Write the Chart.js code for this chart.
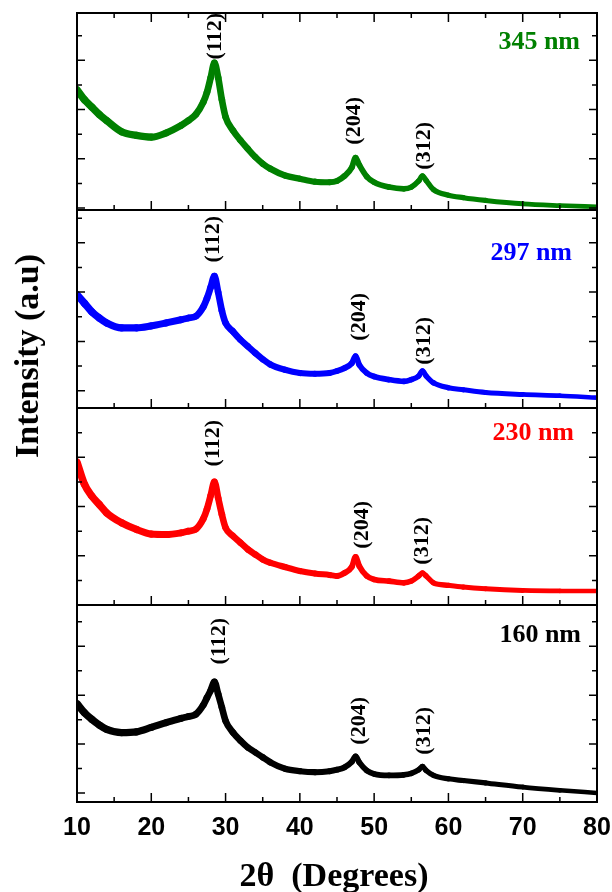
<!DOCTYPE html>
<html>
<head>
<meta charset="utf-8">
<script src="https://cdn.jsdelivr.net/npm/chart.js@4.4.0/dist/chart.umd.min.js"></script>
<style>
  body { margin: 0; background: #fff; }
  #wrap { position: relative; width: 612px; height: 892px; overflow: hidden; }
  #wrap canvas { position: absolute; left: 0; }
  #ytitle {
    position: absolute; left: 27px; top: 356px;
    transform: translate(-50%, -50%) rotate(-90deg);
    font: bold 34px "Liberation Serif", "Times New Roman", serif;
    white-space: nowrap;
  }
</style>
</head>
<body>
<div id="wrap">
  <canvas id="c1"></canvas>
  <canvas id="c2"></canvas>
  <canvas id="c3"></canvas>
  <canvas id="c4"></canvas>
  <div id="ytitle">Intensity (a.u)</div>
</div>
<script>
// 2-theta sampling points (degrees)
const twoTheta = [10, 11, 12, 13, 14, 16, 18, 20, 22, 24, 25, 26, 27, 27.5, 28, 28.5, 29, 29.5, 30, 31, 32, 33, 34, 35, 36, 38, 40, 42, 44, 45, 46, 47, 47.5, 48, 49, 50, 52, 54, 55, 56, 56.5, 57, 58, 60, 62, 65, 70, 75, 80];

// intensities, arbitrary units (one y tick = 1)
const int345 = [4.8, 4.4, 4.1, 3.8, 3.55, 3.1, 2.95, 2.88, 3.05, 3.35, 3.55, 3.8, 4.3, 4.7, 5.3, 5.9, 5.3, 4.4, 3.7, 3.15, 2.75, 2.4, 2.07, 1.8, 1.6, 1.32, 1.19, 1.07, 1.05, 1.1, 1.3, 1.65, 2.05, 1.75, 1.28, 1.05, 0.85, 0.78, 0.85, 1.1, 1.3, 1.12, 0.75, 0.52, 0.42, 0.31, 0.17, 0.1, 0.05];
const int297 = [3.9, 3.55, 3.2, 2.95, 2.75, 2.55, 2.55, 2.63, 2.75, 2.88, 2.95, 3.02, 3.4, 3.75, 4.2, 4.65, 4.0, 3.25, 2.75, 2.4, 2.07, 1.8, 1.53, 1.28, 1.07, 0.85, 0.72, 0.69, 0.72, 0.8, 0.92, 1.12, 1.4, 1.05, 0.72, 0.58, 0.45, 0.38, 0.45, 0.6, 0.8, 0.6, 0.32, 0.12, 0.04, -0.07, -0.15, -0.2, -0.28];
const int230 = [5.8, 4.9, 4.42, 4.08, 3.74, 3.34, 3.07, 2.88, 2.86, 2.93, 3.0, 3.08, 3.5, 3.9, 4.45, 5.0, 4.35, 3.68, 3.14, 2.8, 2.53, 2.26, 2.05, 1.85, 1.72, 1.54, 1.38, 1.28, 1.22, 1.18, 1.3, 1.55, 1.95, 1.58, 1.18, 1.04, 0.97, 0.9, 0.97, 1.18, 1.3, 1.18, 0.9, 0.8, 0.73, 0.66, 0.59, 0.57, 0.57];
const int160 = [3.65, 3.28, 3.01, 2.78, 2.6, 2.47, 2.5, 2.68, 2.88, 3.05, 3.13, 3.22, 3.6, 3.9, 4.2, 4.55, 4.05, 3.5, 2.95, 2.47, 2.14, 1.86, 1.66, 1.46, 1.26, 0.99, 0.89, 0.85, 0.89, 0.95, 1.05, 1.28, 1.5, 1.25, 0.92, 0.78, 0.72, 0.74, 0.8, 0.95, 1.08, 0.92, 0.72, 0.58, 0.51, 0.41, 0.24, 0.11, 0.0];

const sampleNames = ['345 nm', '297 nm', '230 nm', '160 nm'];
const hklLabels = ['(112)', '(204)', '(312)'];
const xTickLabels = [10, 20, 30, 40, 50, 60, 70, 80];

// panel layout: pixel box of each plot area, y range, label placement
const panels = [
  { id: 'c1', data: int345, color: '#008000', top: 13, bottom: 210, ymin: -0.08, ymax: 7.92,
    nameRight: 580, nameY: 29, hklX: [28.57, 47.3, 56.77], hklTop: [0, 84, 109] },
  { id: 'c2', data: int297, color: '#0000ff', top: 210, bottom: 408, ymin: -0.7, ymax: 7.33,
    nameRight: 572, nameY: 43, hklX: [28.3, 47.96, 56.77], hklTop: [6, 83, 107] },
  { id: 'c3', data: int230, color: '#ff0000', top: 408, bottom: 605, ymin: 0, ymax: 8.0,
    nameRight: 574, nameY: 25, hklX: [28.3, 48.36, 56.5], hklTop: [12, 93, 109] },
  { id: 'c4', data: int160, color: '#000000', top: 605, bottom: 802, ymin: -0.37, ymax: 7.69,
    nameRight: 581, nameY: 30, hklX: [29.1, 47.96, 56.7], hklTop: [13, 92, 102] }
];

const serif = '"Liberation Serif", "Times New Roman", serif';
const sans = '"Liberation Sans", Arial, sans-serif';

const framePlugin = {
  id: 'frame',
  afterDraw(chart, args, opts) {
    const ctx = chart.ctx;
    const a = chart.chartArea;
    const xs = chart.scales.x;
    const ys = chart.scales.y;
    const p = opts.panel;
    const idx = opts.index;
    ctx.save();
    ctx.strokeStyle = '#000';

    // x ticks, pointing inward
    ctx.lineWidth = 1.5;
    for (let v = 10; v <= 80; v += 5) {
      const px = xs.getPixelForValue(v);
      const len = v % 10 === 0 ? 9 : 5;
      ctx.beginPath();
      ctx.moveTo(px, a.bottom);
      ctx.lineTo(px, a.bottom - len);
      if (idx === 0) {
        ctx.moveTo(px, a.top);
        ctx.lineTo(px, a.top + len);
      }
      ctx.stroke();
    }
    // y ticks, both sides
    for (let v = Math.ceil(p.ymin); v <= p.ymax; v++) {
      const py = ys.getPixelForValue(v);
      const len = v % 2 === 0 ? 8 : 5;
      ctx.beginPath();
      ctx.moveTo(a.left, py);
      ctx.lineTo(a.left + len, py);
      ctx.moveTo(a.right, py);
      ctx.lineTo(a.right - len, py);
      ctx.stroke();
    }

    ctx.lineWidth = 2;
    ctx.strokeRect(a.left, a.top, a.right - a.left, a.bottom - a.top);

    // hkl labels, rotated
    ctx.fillStyle = '#000';
    ctx.font = 'bold 22px ' + serif;
    ctx.textAlign = 'right';
    ctx.textBaseline = 'middle';
    hklLabels.forEach((lab, i) => {
      const px = xs.getPixelForValue(p.hklX[i]);
      const py = a.top + p.hklTop[i];
      ctx.save();
      ctx.translate(px, py);
      ctx.rotate(-Math.PI / 2);
      ctx.fillText(lab, 0, 0);
      ctx.restore();
    });

    // sample label
    ctx.fillStyle = p.color;
    ctx.font = 'bold 26px ' + serif;
    ctx.textAlign = 'right';
    ctx.fillText(sampleNames[idx], p.nameRight, a.top + p.nameY);

    // bottom panel carries the x axis labels
    if (idx === panels.length - 1) {
      ctx.fillStyle = '#000';
      ctx.font = 'bold 25px ' + sans;
      ctx.textAlign = 'center';
      xTickLabels.forEach(v => {
        ctx.fillText(String(v), xs.getPixelForValue(v), a.bottom + 26);
      });
      ctx.font = 'bold 34px ' + serif;
      ctx.fillText('2\u03B8  (Degrees)', 334, a.bottom + 75);
    }
    ctx.restore();
  }
};

function makePanel(p, index) {
  const canvas = document.getElementById(p.id);
  const padT = index === 0 ? p.top : 5;
  const padB = index === panels.length - 1 ? 892 - p.bottom : 5;
  const canvasTop = p.top - padT;
  const h = (p.bottom - p.top) + padT + padB;
  canvas.width = 612;
  canvas.height = h;
  canvas.style.top = canvasTop + 'px';

  const points = twoTheta.map((x, i) => ({ x: x, y: p.data[i] }));

  new Chart(canvas.getContext('2d'), {
    type: 'line',
    data: {
      datasets: [{
        label: sampleNames[index],
        data: points,
        borderColor: p.color,
        borderWidth: 5,
        borderCapStyle: 'round',
        borderJoinStyle: 'round',
        pointRadius: 0,
        cubicInterpolationMode: 'monotone',
        segment: {
          // noisy band gets thinner toward high angles
          borderWidth: c => 7.5 - (c.p0.parsed.x - 10) * 0.045
        }
      }]
    },
    options: {
      responsive: false,
      animation: false,
      layout: { padding: { left: 77, right: 15, top: padT, bottom: padB } },
      plugins: {
        legend: { display: false },
        tooltip: { enabled: false },
        frame: { panel: p, index: index }
      },
      scales: {
        x: { type: 'linear', min: 10, max: 80, display: false },
        y: { min: p.ymin, max: p.ymax, display: false }
      }
    },
    plugins: [framePlugin]
  });
}

panels.forEach((p, i) => makePanel(p, i));
</script>
</body>
</html>
